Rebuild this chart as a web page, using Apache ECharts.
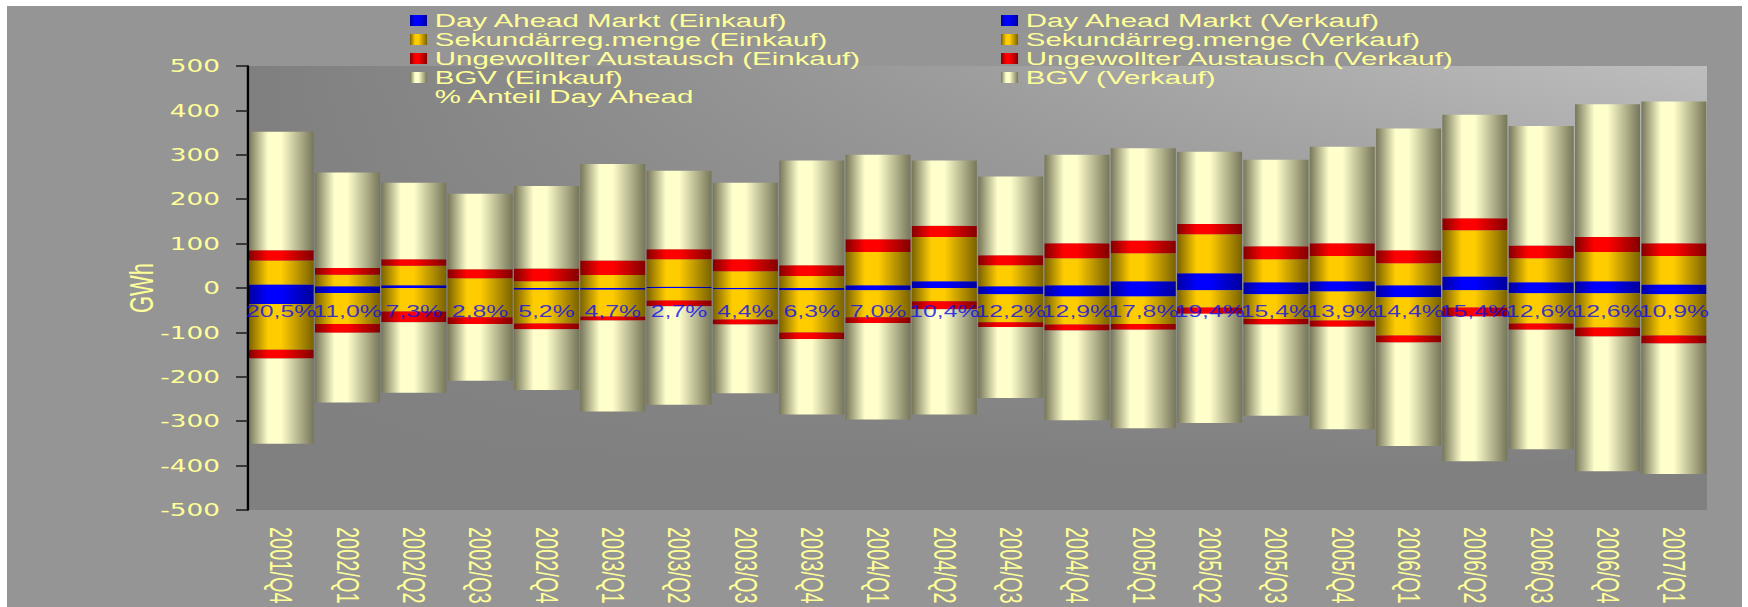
<!DOCTYPE html>
<html>
<head>
<meta charset="utf-8">
<script src="https://cdn.jsdelivr.net/npm/echarts/dist/echarts.min.js"></script>
<style>
  html, body { margin: 0; padding: 0; background: #ffffff; width: 1748px; height: 607px; overflow: hidden; }
  #bg { position: absolute; left: 7px; top: 6px; width: 1735px; height: 601px; background: #959595; }
  #wrap { position: absolute; left: 0; top: 0; width: 1128px; height: 607px; transform-origin: 0 0; }
  #chart { width: 1128px; height: 607px; }
</style>
</head>
<body>
<div id="bg"></div>
<div id="wrap"><div id="chart"></div></div>
<script>
// ---- data (GWh) ----
const categories = ['2001/Q4','2002/Q1','2002/Q2','2002/Q3','2002/Q4','2003/Q1','2003/Q2','2003/Q3','2003/Q4','2004/Q1','2004/Q2','2004/Q3','2004/Q4','2005/Q1','2005/Q2','2005/Q3','2005/Q4','2006/Q1','2006/Q2','2006/Q3','2006/Q4','2007/Q1'];
const dayAheadEinkauf = [8,4,6,0,0,0,3,0,0,6,15,4,6,15,33,13,15,6,26,13,15,8];
const dayAheadVerkauf = [-36,-11,0,0,-4,-4,0,-3,-5,-5,0,-14,-19,-19,-5,-14,-8,-21,-5,-12,-12,-14];
const sekEinkauf = [54,26,44,22,15,29,62,38,27,75,100,47,61,63,88,52,57,50,104,54,66,64];
const sekVerkauf = [-103,-70,-53,-66,-76,-60,-28,-68,-95,-61,-30,-63,-63,-62,-39,-56,-65,-86,-39,-68,-77,-93];
const ungEinkauf = [23,15,15,20,29,33,22,27,24,29,25,23,34,29,23,29,29,29,27,29,34,29];
const ungVerkauf = [-20,-20,-24,-15,-13,-9,-13,-11,-15,-13,-18,-11,-14,-13,-14,-12,-14,-16,-20,-14,-20,-18];
const bgvEinkauf = [267,215,172,170,186,217,177,172,236,190,147,177,199,208,163,195,217,274,233,269,299,319];
const bgvVerkauf = [-192,-157,-159,-128,-137,-205,-222,-155,-170,-217,-237,-160,-202,-222,-246,-206,-231,-233,-326,-269,-304,-294];
const anteilDayAhead = [20.5,11.0,7.3,2.8,5.2,4.7,2.7,4.4,6.3,7.0,10.4,12.2,12.9,17.8,19.4,15.4,13.9,14.4,15.4,12.6,12.6,10.9];
const anteilLabelLevel = -52;   // GWh level at which the percentage labels sit
const yMin = -500, yMax = 500, yStep = 100;

const names = {
  daE: 'Day Ahead Markt (Einkauf)', daV: 'Day Ahead Markt (Verkauf)',
  srE: 'Sekundärreg.menge (Einkauf)', srV: 'Sekundärreg.menge (Verkauf)',
  uaE: 'Ungewollter Austausch (Einkauf)', uaV: 'Ungewollter Austausch (Verkauf)',
  bgE: 'BGV (Einkauf)', bgV: 'BGV (Verkauf)',
  pct: '% Anteil Day Ahead'
};

// ---- layout (chart is drawn narrow, then stretched horizontally like the original) ----
const FULL_W = 1748, BASE_W = 1128, H = 607;
const SX = FULL_W / BASE_W;
document.getElementById('wrap').style.transform = 'scaleX(' + SX + ')';
const GL = 248 / SX, GW = 1459 / SX, GT = 66, GH = 444;

function cyl(dark, light, darkR) {
  return new echarts.graphic.LinearGradient(0, 0, 1, 0, [
    { offset: 0, color: dark },
    { offset: 0.3, color: light },
    { offset: 0.5, color: light },
    { offset: 1, color: darkR || dark }
  ]);
}
const cBlue = () => cyl('#0000a0', '#0000ff', '#00009a');
const cGold = () => cyl('#7a6200', '#ffcc00');
const cRed = () => cyl('#820000', '#ff0000');
const cCream = () => cyl('#76765a', '#ffffcc');

function bar(name, data, color) {
  return {
    name: name, type: 'bar', stack: 'total', data: data,
    barCategoryGap: '2%',
    itemStyle: { color: color },
    emphasis: { disabled: true },
    silent: true
  };
}

const fmtPct = v => v.toFixed(1).replace('.', ',') + '%';

const legendText = { color: '#ffff99', fontSize: 19, fontFamily: 'Liberation Sans, Arial, sans-serif', lineHeight: 19 };

const chart = echarts.init(document.getElementById('chart'), null, { renderer: 'svg', width: BASE_W, height: H });
chart.setOption({
  animation: false,
  backgroundColor: 'transparent',
  grid: {
    left: GL, top: GT, width: GW, height: GH,
    show: true, borderWidth: 0,
    backgroundColor: new echarts.graphic.LinearGradient(0, 0, 1, 0, [
      { offset: 0, color: '#7f7f7f' }, { offset: 1, color: '#bebebe' }
    ])
  },
  graphic: {
    elements: [{
      type: 'rect', silent: true, z: 1,
      shape: { x: GL, y: GT, width: GW, height: GH },
      style: {
        fill: new echarts.graphic.LinearGradient(0, 0, 0, 1, [
          { offset: 0, color: 'rgba(128,128,128,0)' },
          { offset: 0.9, color: 'rgba(128,128,128,1)' },
          { offset: 1, color: 'rgba(128,128,128,1)' }
        ])
      }
    }]
  },
  legend: [{
    orient: 'vertical', left: 410 / SX, top: 11, padding: 0,
    itemWidth: 11, itemHeight: 11, itemGap: 0, selectedMode: false,
    textStyle: legendText,
    data: [
      { name: names.daE, icon: 'rect' },
      { name: names.srE, icon: 'rect' },
      { name: names.uaE, icon: 'rect' },
      { name: names.bgE, icon: 'rect' },
      { name: names.pct, icon: 'rect', itemStyle: { opacity: 0 } }
    ]
  }, {
    orient: 'vertical', left: 1001 / SX, top: 11, padding: 0,
    itemWidth: 11, itemHeight: 11, itemGap: 0, selectedMode: false,
    textStyle: legendText,
    data: [
      { name: names.daV, icon: 'rect' },
      { name: names.srV, icon: 'rect' },
      { name: names.uaV, icon: 'rect' },
      { name: names.bgV, icon: 'rect' }
    ]
  }],
  xAxis: {
    type: 'category', data: categories, position: 'bottom',
    axisLine: { show: false, onZero: false },
    axisTick: { show: false },
    splitLine: { show: false },
    axisLabel: {
      interval: 0, rotate: -90, margin: 17,
      color: '#ffff99', fontSize: 20, fontFamily: 'Liberation Sans, Arial, sans-serif'
    }
  },
  yAxis: {
    type: 'value', min: yMin, max: yMax, interval: yStep, z: 5,
    name: 'GWh', nameLocation: 'middle', nameGap: 58, nameMoveOverlap: false,
    nameTextStyle: { color: '#ffff99', fontSize: 22, fontFamily: 'Liberation Sans, Arial, sans-serif' },
    axisLine: { show: true, lineStyle: { color: '#000000', width: 1.5 } },
    axisTick: { show: true, length: 7.7, lineStyle: { color: '#1a1a1a', width: 1.5 } },
    axisLabel: { color: '#ffff99', fontSize: 17, fontFamily: 'DejaVu Sans, sans-serif', margin: 18 },
    splitLine: { show: false }
  },
  series: [
    bar(names.daE, dayAheadEinkauf, cBlue()),
    bar(names.daV, dayAheadVerkauf, cBlue()),
    bar(names.srE, sekEinkauf, cGold()),
    bar(names.srV, sekVerkauf, cGold()),
    bar(names.uaE, ungEinkauf, cRed()),
    bar(names.uaV, ungVerkauf, cRed()),
    bar(names.bgE, bgvEinkauf, cCream()),
    bar(names.bgV, bgvVerkauf, cCream()),
    {
      name: names.pct, type: 'scatter', z: 6, silent: true,
      symbol: 'circle', symbolSize: 1,
      itemStyle: { color: 'rgba(0,0,0,0)' },
      data: anteilDayAhead.map((v, i) => [i, anteilLabelLevel]),
      label: {
        show: true, position: 'inside',
        formatter: p => fmtPct(anteilDayAhead[p.dataIndex]),
        color: '#0c0cf0', fontSize: 16, fontFamily: 'Liberation Sans, Arial, sans-serif'
      },
      emphasis: { disabled: true }
    }
  ]
});
</script>
</body>
</html>
